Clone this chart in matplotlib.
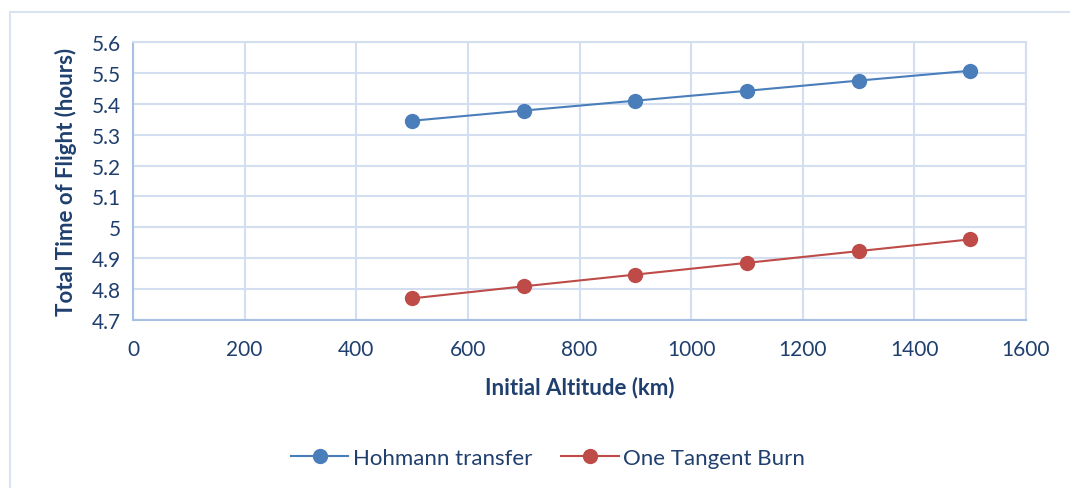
import matplotlib
matplotlib.use("Agg")
import matplotlib.pyplot as plt
from matplotlib.patches import Rectangle

# flight time vs. starting altitude for the two transfer types
altitude = [500, 700, 900, 1100, 1300, 1500]
hohmann = [5.345, 5.378, 5.410, 5.442, 5.475, 5.507]
one_tangent = [4.770, 4.809, 4.847, 4.885, 4.923, 4.961]

x_ticks = [0, 200, 400, 600, 800, 1000, 1200, 1400, 1600]
y_ticks = [4.7, 4.8, 4.9, 5.0, 5.1, 5.2, 5.3, 5.4, 5.5, 5.6]
y_tick_labels = ["4.7", "4.8", "4.9", "5", "5.1", "5.2", "5.3", "5.4", "5.5", "5.6"]

text_col = "#1f3f6e"
grid_col = "#d3dff1"
axis_col = "#a8c0e4"

plt.rcParams["font.family"] = ["Lato", "DejaVu Sans"]

fig = plt.figure(figsize=(10.7, 4.89), dpi=100)
ax = fig.add_axes([133 / 1070, 1 - 321 / 489, (1026 - 133) / 1070, (321 - 43) / 489])

# outer chart frame
fig.add_artist(Rectangle((10 / 1070, -0.1), 2, 1 - 13 / 489 + 0.1, fill=False,
                         edgecolor="#d9e3f2", linewidth=1.5, transform=fig.transFigure))

ax.plot(altitude, hohmann, color="#4a7ebb", linewidth=1.5, marker="o", markersize=10,
        label="Hohmann transfer")
ax.plot(altitude, one_tangent, color="#be4b48", linewidth=1.5, marker="o", markersize=10,
        label="One Tangent Burn")

ax.set_xlim(0, 1600)
ax.set_ylim(4.7, 5.6)
ax.set_xticks(x_ticks)
ax.set_yticks(y_ticks)
ax.set_yticklabels(y_tick_labels)
ax.grid(True, color=grid_col, linewidth=1.5)
ax.set_axisbelow(True)

for side in ["top", "right"]:
    ax.spines[side].set_color(grid_col)
    ax.spines[side].set_linewidth(1.5)
for side in ["left", "bottom"]:
    ax.spines[side].set_color(axis_col)
    ax.spines[side].set_linewidth(1.5)

ax.tick_params(length=0, labelsize=15, colors=text_col, pad=9)
ax.tick_params(axis="x", pad=14)

ax.set_xlabel("Initial Altitude (km)", fontsize=16, fontweight="bold", color=text_col, labelpad=12)
ax.set_ylabel("Total Time of Flight (hours)", fontsize=16, fontweight="bold", color=text_col, labelpad=10)

leg = fig.legend(loc="center", bbox_to_anchor=(548 / 1070, 1 - 459 / 489), ncol=2,
                 frameon=False, fontsize=16, handlelength=2.6, columnspacing=1.3,
                 handletextpad=0.2)
for t in leg.get_texts():
    t.set_color(text_col)

fig.savefig("out.png", dpi=100)
